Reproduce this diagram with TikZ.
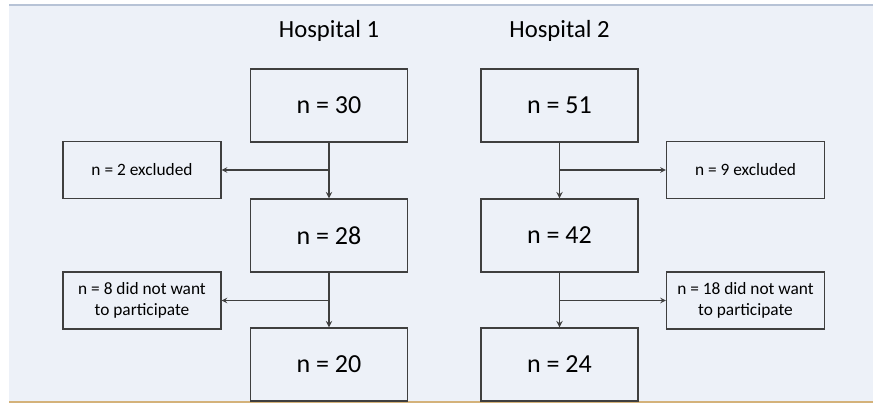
\documentclass[tikz,border=0pt]{standalone}
\usepackage{fontspec}
\setmainfont{Carlito}
\usetikzlibrary{arrows}

\definecolor{slidebg}{HTML}{EDF1F8}
\definecolor{topline}{HTML}{B7C3D6}
\definecolor{footline}{HTML}{D4B27A}
\definecolor{boxline}{HTML}{3F3F3F}

\begin{document}
\begin{tikzpicture}[x=0.75pt,y=-0.75pt]
\useasboundingbox (0,0) rectangle (874,403);
\fill[slidebg] (9,5) rectangle (873,401);
\draw[draw=topline, line width=1.2pt] (9,5) -- (873,5);
\draw[draw=footline, line width=1.5pt] (9,401.5) -- (873,401.5);
\begin{scope}
	\tikzstyle{every node}=[align=center, text=black]
	\tikzstyle{countbox}=[draw=boxline, line width=1.1pt, fill=slidebg, minimum width=118pt, minimum height=54.75pt, font=\fontsize{19.5}{23}\selectfont]
	\tikzstyle{lossbox}=[draw=boxline, line width=1.1pt, fill=slidebg, minimum width=118.5pt, minimum height=42.5pt, font=\fontsize{13}{15.5}\selectfont]
	\tikzstyle{flow}=[draw=boxline, line width=1.1pt, -stealth]
	\tikzstyle{side}=[draw=boxline, line width=0.8pt, -stealth]
	% titles
	\node[anchor=base, font=\fontsize{18.5}{22}\selectfont] (t1) at (329,37.5) {Hospital 1};
	\node[anchor=base, font=\fontsize{18.5}{22}\selectfont] (t2) at (559.5,37.5) {Hospital 2};
	% hospital 1
	\node[countbox] (a1) at (329,105.5) {n = 30};
	\node[countbox] (a2) at (329,235.5) {n = 28};
	\node[countbox] (a3) at (329,364.5) {n = 20};
	\node[lossbox] (l1) at (142,170) {n = 2 excluded};
	\node[lossbox] (l2) at (142,300.5) {n = 8 did not want\\to participate};
	% hospital 2
	\node[countbox] (b1) at (559.5,105.5) {n = 51};
	\node[countbox] (b2) at (559.5,235.5) {n = 42};
	\node[countbox] (b3) at (559.5,364.5) {n = 24};
	\node[lossbox] (r1) at (745.5,170) {n = 9 excluded};
	\node[lossbox] (r2) at (745.5,300.5) {n = 18 did not want\\to participate};

	\draw [flow] (a1) -- (a2);
	\draw [flow] (a2) -- (a3);
	\draw [flow] (b1) -- (b2);
	\draw [flow] (b2) -- (b3);
	\draw [side] (a1.south |- l1) -- (l1.east);
	\draw [side] (a2.south |- l2) -- (l2.east);
	\draw [side] (b1.south |- r1) -- (r1.west);
	\draw [side] (b2.south |- r2) -- (r2.west);
\end{scope}
\end{tikzpicture}
\end{document}
